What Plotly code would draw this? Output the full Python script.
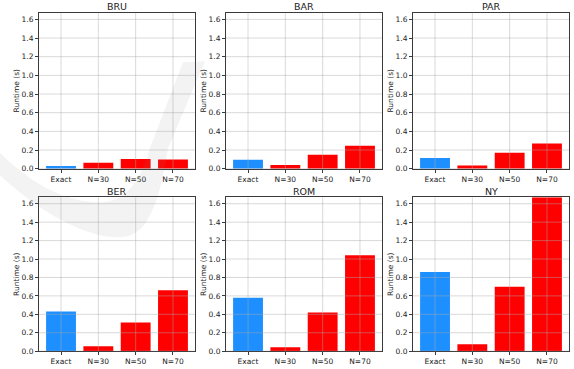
import plotly.graph_objects as go

W, H = 574, 369

cities = ["BRU", "BAR", "PAR", "BER", "ROM", "NY"]
methods = ["Exact", "N=30", "N=50", "N=70"]

bru = [0.03, 0.064, 0.105, 0.098]
bar = [0.095, 0.04, 0.15, 0.245]
par = [0.115, 0.035, 0.17, 0.27]
ber = [0.43, 0.053, 0.31, 0.66]
rom = [0.58, 0.043, 0.42, 1.04]
ny = [0.86, 0.075, 0.70, 1.67]

series = [bru, bar, par, ber, rom, ny]
bar_colors = ["#1E8FFF", "#FF0000", "#FF0000", "#FF0000"]

y_max = 1.67
y_ticks = [0.0, 0.2, 0.4, 0.6, 0.8, 1.0, 1.2, 1.4, 1.6]

# subplot boxes in pixels: (left, right) and (top, bottom)
cols_px = [(39, 195), (226, 382), (413, 569)]
rows_px = [(13, 171), (200, 356)]

FONT = "DejaVu Sans"
TXT = "#222222"
SPINE = "#3a3a3a"
GRID = "rgba(170,170,170,0.45)"

fig = go.Figure()
shapes = []
annotations = []

for i, (city, vals) in enumerate(zip(cities, series)):
    r, c = divmod(i, 3)
    n = i + 1
    xa = "x" if n == 1 else f"x{n}"
    ya = "y" if n == 1 else f"y{n}"
    xkey = "xaxis" if n == 1 else f"xaxis{n}"
    ykey = "yaxis" if n == 1 else f"yaxis{n}"
    (l, rr), (t, b) = cols_px[c], rows_px[r]

    fig.add_trace(go.Bar(
        x=methods, y=vals, xaxis=xa, yaxis=ya,
        marker=dict(color=bar_colors, line=dict(width=0)),
        width=0.8, showlegend=False, hoverinfo="x+y",
    ))

    fig.layout[xkey] = dict(
        domain=[l / W, rr / W], anchor=ya, range=[-0.59, 3.59],
        type="category", showgrid=False, zeroline=False,
        showline=True, mirror=True, linecolor=SPINE, linewidth=1,
        ticks="outside", ticklen=3, tickcolor=SPINE, tickwidth=1,
        tickfont=dict(family=FONT, size=7.5, color=TXT),
        layer="above traces",
    )
    fig.layout[ykey] = dict(
        domain=[1 - b / H, 1 - t / H], anchor=xa, range=[0, y_max],
        tickvals=y_ticks, ticktext=[f"{v:.1f}" for v in y_ticks],
        showgrid=False, zeroline=False,
        showline=True, mirror=True, linecolor=SPINE, linewidth=1,
        ticks="outside", ticklen=3, tickcolor=SPINE, tickwidth=1,
        tickfont=dict(family=FONT, size=7.5, color=TXT),
        title=dict(text="Runtime (s)", font=dict(family=FONT, size=7.5, color=TXT),
                   standoff=0),
        layer="above traces",
    )

    # grid drawn over the bars
    for yv in y_ticks:
        shapes.append(dict(type="line", xref=f"{xa} domain", yref=ya,
                           x0=0, x1=1, y0=yv, y1=yv,
                           line=dict(color=GRID, width=1), layer="above"))
    for k in range(len(methods)):
        shapes.append(dict(type="line", xref=xa, yref=f"{ya} domain",
                           x0=k, x1=k, y0=0, y1=1,
                           line=dict(color=GRID, width=1), layer="above"))

    annotations.append(dict(
        text=city, xref=f"{xa} domain", yref=f"{ya} domain",
        x=0.5, y=1, yanchor="middle", yshift=6, showarrow=False,
        font=dict(family=FONT, size=9.5, color=TXT),
    ))


def px_path(cmds):
    out = []
    for cmd in cmds:
        op, pts = cmd[0], cmd[1:]
        coords = " ".join(f"{x / W:.4f},{1 - y / H:.4f}" for x, y in pts)
        out.append(f"{op} {coords}" if pts else op)
    return " ".join(out)


# faint publisher swoosh
swoosh = px_path([
    ("M", (0, 178)),
    ("C", (40, 215), (90, 245), (125, 240)),
    ("C", (150, 236), (160, 200), (168, 150)),
    ("L", (205, 62)),
    ("L", (183, 63)),
    ("L", (150, 150)),
    ("C", (140, 185), (125, 205), (100, 205)),
    ("C", (60, 205), (25, 180), (0, 155)),
    ("Z",),
])
shapes.append(dict(type="path", xref="paper", yref="paper", path=swoosh,
                   fillcolor="rgba(140,140,140,0.10)", line=dict(width=0),
                   layer="above"))

fig.update_layout(
    width=W, height=H,
    margin=dict(l=0, r=0, t=0, b=0),
    paper_bgcolor="white", plot_bgcolor="white",
    shapes=shapes, annotations=annotations,
    bargap=0.2,
)

fig.write_html("out.html")
